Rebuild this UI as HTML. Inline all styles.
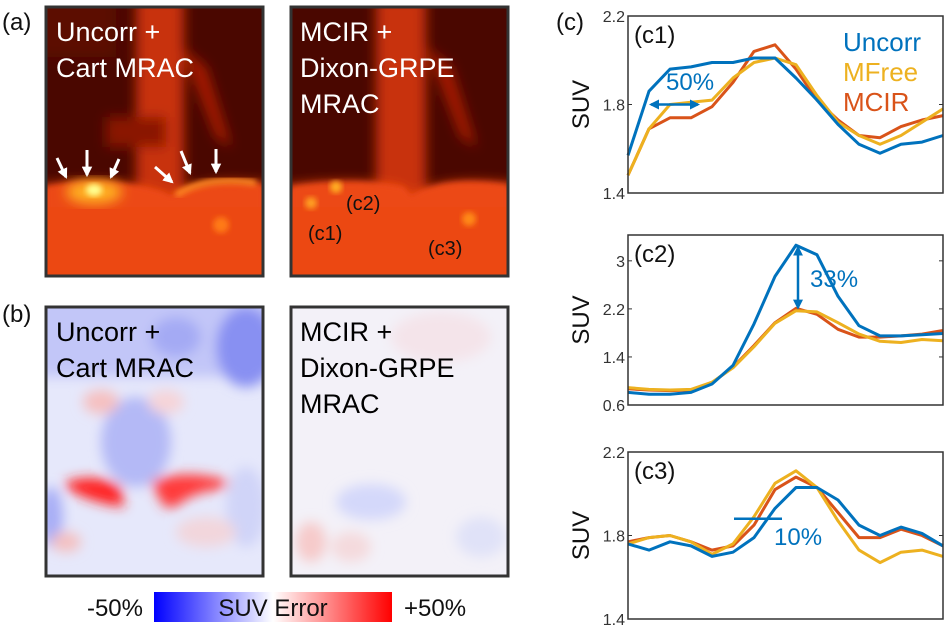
<!DOCTYPE html>
<html><head><meta charset="utf-8">
<style>
html,body{margin:0;padding:0;background:#fff;}
body{width:950px;height:629px;position:relative;overflow:hidden;font-family:"Liberation Sans","DejaVu Sans",sans-serif;}
svg{position:absolute;left:0;top:0;}
</style></head><body>
<svg width="950" height="629" viewBox="0 0 950 629" xmlns="http://www.w3.org/2000/svg">
<defs>
  <filter id="blur6" x="-20%" y="-20%" width="140%" height="140%"><feGaussianBlur stdDeviation="6"/></filter>
  <filter id="blur3" x="-20%" y="-20%" width="140%" height="140%"><feGaussianBlur stdDeviation="3"/></filter>
  <linearGradient id="cbar" x1="0" x2="1" y1="0" y2="0">
    <stop offset="0" stop-color="#0000ff"/><stop offset="0.5" stop-color="#ffffff"/><stop offset="1" stop-color="#ff0000"/>
  </linearGradient>
  <clipPath id="clipA"><rect x="0" y="0" width="217" height="269"/></clipPath>
  <marker id="ah" viewBox="0 0 10 10" refX="8" refY="5" markerWidth="4" markerHeight="4" orient="auto-start-reverse"><path d="M0,0 L10,5 L0,10 z" fill="#0072BD"/></marker>
  <marker id="wh" viewBox="0 0 10 10" refX="8" refY="5" markerWidth="3.5" markerHeight="3.5" orient="auto"><path d="M0,0 L10,5 L0,10 z" fill="#fff"/></marker>
</defs>

<text x="2" y="30" font-size="24" fill="#111">(a)</text>
<text x="2" y="322" font-size="24" fill="#111">(b)</text>
<text x="556" y="30" font-size="24" fill="#111">(c)</text>

<!-- (a) left PET -->
<g transform="translate(46,7)">
  <g clip-path="url(#clipA)">
    <rect width="217" height="269" fill="#4a0700"/>
    <g filter="url(#blur6)">
      <rect x="90" y="-10" width="48" height="210" fill="#c83008"/>
      <path d="M135,40 L170,130 L185,140 L160,60 z" fill="#a81e04"/>
      <rect x="60" y="110" width="60" height="30" fill="#8a1403"/>
      <rect x="-10" y="-10" width="80" height="60" fill="#5c0b01"/>
      <path d="M-10,180 Q60,168 115,185 L125,190 Q160,168 227,178 L227,279 L-10,279 z" fill="#ee4a12"/>
    </g>
    <path d="M0,180 Q60,168 115,185 L125,190 Q160,168 217,178 L217,269 L0,269 z" fill="#ec4812" filter="url(#blur3)"/>
    <rect x="0" y="200" width="217" height="69" fill="#ec4812"/>
    <ellipse cx="48" cy="185" rx="28" ry="12" fill="#ffb020" filter="url(#blur6)"/>
    <ellipse cx="48" cy="183" rx="8" ry="6" fill="#ffff90" filter="url(#blur3)"/>
    <path d="M130,188 Q160,168 210,176" stroke="#ff8a20" stroke-width="6" fill="none" filter="url(#blur3)"/>
    <circle cx="175" cy="218" r="8" fill="#ff7a18" filter="url(#blur3)"/>
  </g>
  <rect width="217" height="269" fill="none" stroke="#333" stroke-width="3"/>
  <text x="10" y="34" font-size="27" fill="#fff">Uncorr +</text>
  <text x="10" y="70" font-size="27" fill="#fff">Cart MRAC</text>
  <g stroke="#fff" stroke-width="3" marker-end="url(#wh)">
    <line x1="11" y1="151" x2="20" y2="170"/>
    <line x1="41" y1="143" x2="41" y2="168"/>
    <line x1="73" y1="152" x2="65" y2="170"/>
    <line x1="109" y1="160" x2="126" y2="175"/>
    <line x1="135" y1="144" x2="144" y2="166"/>
    <line x1="170" y1="142" x2="170" y2="165"/>
  </g>
</g>

<!-- (a) right PET -->
<g transform="translate(291,7)">
  <g clip-path="url(#clipA)">
    <rect width="217" height="269" fill="#4a0700"/>
    <g filter="url(#blur6)">
      <rect x="85" y="-10" width="50" height="210" fill="#c83008"/>
      <path d="M135,40 L170,130 L185,140 L160,60 z" fill="#a81e04"/>
      <path d="M-10,180 Q60,170 112,180 L120,190 Q150,168 227,178 L227,279 L-10,279 z" fill="#ee4a12"/>
    </g>
    <path d="M0,180 Q60,170 112,180 L120,190 Q150,168 217,178 L217,269 L0,269 z" fill="#ec4812" filter="url(#blur3)"/>
    <rect x="0" y="200" width="217" height="69" fill="#ec4812"/>
    <circle cx="45" cy="180" r="6" fill="#ffb020" filter="url(#blur3)"/>
    <circle cx="20" cy="196" r="6" fill="#ffa020" filter="url(#blur3)"/>
    <circle cx="178" cy="212" r="7" fill="#ff8a18" filter="url(#blur3)"/>
  </g>
  <rect width="217" height="269" fill="none" stroke="#333" stroke-width="3"/>
  <text x="9" y="34" font-size="27" fill="#fff">MCIR +</text>
  <text x="9" y="70" font-size="27" fill="#fff">Dixon-GRPE</text>
  <text x="9" y="106" font-size="27" fill="#fff">MRAC</text>
  <text x="55" y="203" font-size="20" fill="#111">(c2)</text>
  <text x="17" y="233" font-size="20" fill="#111">(c1)</text>
  <text x="137" y="248" font-size="20" fill="#111">(c3)</text>
</g>

<!-- (b) left error map -->
<g transform="translate(46,307)">
  <g clip-path="url(#clipA)">
    <rect width="217" height="269" fill="#e6e8fb"/>
    <g filter="url(#blur6)">
      <rect x="-10" y="-10" width="237" height="80" fill="#c2c6f8"/>
      <ellipse cx="200" cy="40" rx="30" ry="40" fill="#8890f2"/>
      <ellipse cx="130" cy="30" rx="25" ry="20" fill="#a4aaf4"/>
      <ellipse cx="90" cy="135" rx="35" ry="45" fill="#b4b9f6"/>
      <ellipse cx="55" cy="95" rx="18" ry="12" fill="#f6c0c0"/>
      <ellipse cx="120" cy="95" rx="18" ry="12" fill="#f6d4d8"/>
      <ellipse cx="5" cy="210" rx="12" ry="30" fill="#a8aef6"/>
      <ellipse cx="200" cy="200" rx="20" ry="40" fill="#d0d4f8"/>
      <path d="M20,175 Q50,165 75,180 L78,200 Q40,195 20,180 z" fill="#ff2020"/>
      <path d="M105,175 Q140,160 185,175 L175,182 Q145,185 130,200 L118,200 z" fill="#ff3a3a"/>
      <ellipse cx="20" cy="235" rx="15" ry="10" fill="#f4c0c0"/>
      <ellipse cx="160" cy="225" rx="30" ry="15" fill="#f2d6dc"/>
    </g>
  </g>
  <rect width="217" height="269" fill="none" stroke="#333" stroke-width="3"/>
  <text x="10" y="34" font-size="27" fill="#000">Uncorr +</text>
  <text x="10" y="70" font-size="27" fill="#000">Cart MRAC</text>
</g>

<!-- (b) right error map -->
<g transform="translate(291,307)">
  <g clip-path="url(#clipA)">
    <rect width="217" height="269" fill="#f3f1f8"/>
    <g filter="url(#blur6)">
      <ellipse cx="80" cy="195" rx="35" ry="18" fill="#d4d8fa"/>
      <ellipse cx="20" cy="235" rx="15" ry="20" fill="#f6caca"/>
      <ellipse cx="60" cy="240" rx="20" ry="15" fill="#f4dadd"/>
      <ellipse cx="150" cy="30" rx="50" ry="25" fill="#f4e4ea"/>
      <ellipse cx="190" cy="230" rx="25" ry="20" fill="#e0e2f8"/>
    </g>
  </g>
  <rect width="217" height="269" fill="none" stroke="#333" stroke-width="3"/>
  <text x="9" y="34" font-size="27" fill="#000">MCIR +</text>
  <text x="9" y="70" font-size="27" fill="#000">Dixon-GRPE</text>
  <text x="9" y="106" font-size="27" fill="#000">MRAC</text>
</g>

<g>
  <rect x="154" y="592" width="238" height="30" fill="url(#cbar)"/>
  <text x="143" y="616" font-size="24" text-anchor="end" fill="#111">-50%</text>
  <text x="273" y="616" font-size="24" text-anchor="middle" fill="#111">SUV Error</text>
  <text x="404" y="616" font-size="24" fill="#111">+50%</text>
</g>

<g id="charts"></g>
</svg>
<script>
const c1Uncorr=[1.57,1.86,1.96,1.97,1.99,1.99,2.01,2.01,1.92,1.82,1.71,1.62,1.58,1.62,1.63,1.66];
const c1MFree=[1.48,1.69,1.80,1.81,1.82,1.92,1.99,2.01,1.98,1.84,1.72,1.66,1.62,1.66,1.72,1.78];
const c1MCIR=[1.48,1.69,1.74,1.74,1.79,1.90,2.04,2.07,1.96,1.82,1.73,1.66,1.65,1.70,1.73,1.75];
const c2Uncorr=[0.81,0.78,0.78,0.81,0.95,1.26,1.95,2.74,3.26,3.10,2.41,1.92,1.75,1.75,1.77,1.79];
const c2MFree=[0.89,0.86,0.85,0.86,0.98,1.22,1.57,1.96,2.17,2.15,1.97,1.78,1.66,1.64,1.69,1.67];
const c2MCIR=[0.87,0.85,0.84,0.85,0.97,1.23,1.59,1.97,2.21,2.11,1.86,1.73,1.73,1.75,1.78,1.84];
const c3Uncorr=[1.76,1.73,1.77,1.75,1.70,1.72,1.79,1.93,2.03,2.03,1.97,1.85,1.80,1.84,1.81,1.75];
const c3MFree=[1.76,1.79,1.80,1.77,1.71,1.76,1.89,2.05,2.11,2.03,1.87,1.73,1.67,1.72,1.73,1.70];
const c3MCIR=[1.77,1.79,1.80,1.77,1.73,1.75,1.85,2.02,2.08,2.03,1.91,1.79,1.79,1.83,1.80,1.75];
const c1Ticks=[1.4,1.8,2.2];
const c2Ticks=[0.6,1.4,2.2,3];
const c3Ticks=[1.4,1.8,2.2];
const seriesNames=['Uncorr','MFree','MCIR'];

const NS='http://www.w3.org/2000/svg';
const root=document.getElementById('charts');
const colors={Uncorr:'#0072BD',MFree:'#EDB120',MCIR:'#D95319'};
function mk(tag,attrs,parent){const e=document.createElementNS(NS,tag);for(const k in attrs)e.setAttribute(k,attrs[k]);(parent||root).appendChild(e);return e;}

function chart(id,top,bottom,ymin,ymax,ticks,data,label){
  const L=628,R=943;
  const g=mk('g',{});
  
  
  const n=data.Uncorr.length;
  const xs=i=>L+(R-L)*i/(n-1);
  const ys=v=>bottom-(v-ymin)/(ymax-ymin)*(bottom-top);
  ticks.forEach(t=>{
    const y=ys(t);
    const tl=mk('line',{x1:L,x2:L+4,y1:y,y2:y,stroke:'#333','stroke-width':1},g);
    
    
    const tr=mk('line',{x1:R-4,x2:R,y1:y,y2:y,stroke:'#333','stroke-width':1},g);
    
    
    const tx=mk('text',{x:L-3,y:y+6,'font-size':16,'text-anchor':'end',fill:'#333'},g);
    tx.textContent=String(t);
    
    
  });
  ['MCIR','MFree','Uncorr'].forEach(s=>{
    const d=data[s].map((v,i)=>(i?'L':'M')+xs(i).toFixed(1)+','+ys(v).toFixed(1)).join(' ');
    const p=mk('path',{d:d,fill:'none',stroke:colors[s],'stroke-width':3,'stroke-linejoin':'round'},g);
    
    
  });
  const box=mk('rect',{x:L,y:top,width:R-L,height:bottom-top,fill:'none',stroke:'#333','stroke-width':1.5},g);
  
  
  const yl=mk('text',{x:0,y:0,'font-size':24,'text-anchor':'middle',fill:'#111',transform:`translate(589,${(top+bottom)/2}) rotate(-90)`},g);
  yl.textContent='SUV';
  
  
  const lb=mk('text',{x:634,y:top+27,'font-size':24,fill:'#111'},g);
  lb.textContent=label;
  
  
  return {xs,ys,g};
}

const a=chart('chart-c1',16,193,1.4,2.2,c1Ticks,{Uncorr:c1Uncorr,MFree:c1MFree,MCIR:c1MCIR},'(c1)');
const b=chart('chart-c2',235,405,0.6,3.43,c2Ticks,{Uncorr:c2Uncorr,MFree:c2MFree,MCIR:c2MCIR},'(c2)');
const c=chart('chart-c3',452,619,1.4,2.2,c3Ticks,{Uncorr:c3Uncorr,MFree:c3MFree,MCIR:c3MCIR},'(c3)');

seriesNames.forEach((s,i)=>{
  const t=mk('text',{x:843,y:51+i*30,'font-size':26,fill:colors[s]});
  t.textContent=s;
  
  
});

let ar=mk('line',{x1:a.xs(1)+2,x2:a.xs(3)+7,y1:a.ys(1.8),y2:a.ys(1.8),stroke:'#0072BD','stroke-width':2.5,'marker-start':'url(#ah)','marker-end':'url(#ah)'});


let at=mk('text',{x:666,y:90,'font-size':24,fill:'#0072BD'});
at.textContent='50%';



ar=mk('line',{x1:b.xs(8)+2,x2:b.xs(8)+2,y1:b.ys(3.22),y2:b.ys(2.22),stroke:'#0072BD','stroke-width':2.5,'marker-start':'url(#ah)','marker-end':'url(#ah)'});


at=mk('text',{x:810,y:287,'font-size':24,fill:'#0072BD'});
at.textContent='33%';



ar=mk('line',{x1:c.xs(5)+1,x2:c.xs(7)+7,y1:c.ys(1.88),y2:c.ys(1.88),stroke:'#0072BD','stroke-width':2.5});


at=mk('text',{x:774,y:545,'font-size':24,fill:'#0072BD'});
at.textContent='10%';


</script>
</body></html>
